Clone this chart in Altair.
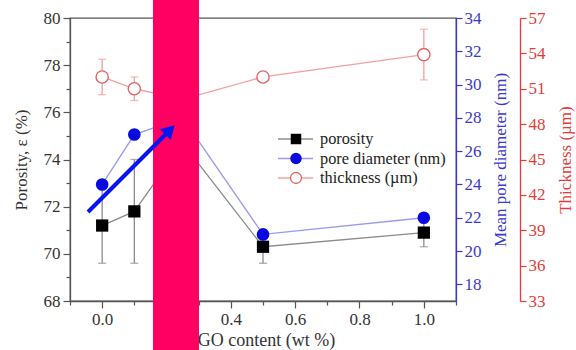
import altair as alt
import pandas as pd

# ---- data ----
go_content = [0.0, 0.1, 0.25, 0.5, 1.0]
porosity = [71.2, 71.8, 74.7, 70.3, 70.9]
porosity_err = [1.6, 2.2, 1.5, 0.7, 0.6]
pore_diameter = [24.0, 27.0, 28.0, 21.0, 22.0]
thickness = [52.0, 51.0, 50.1, 52.0, 53.9]
thickness_err = [1.5, 1.0, 0.8, 0.4, 2.15]

legend_labels = ["porosity", "pore diameter (nm)", "thickness (\u00b5m)"]

df = pd.DataFrame({
    "x": go_content,
    "por": porosity,
    "por_lo": [p - e for p, e in zip(porosity, porosity_err)],
    "por_hi": [p + e for p, e in zip(porosity, porosity_err)],
    "dia": pore_diameter,
    "thk": thickness,
    "thk_lo": [t - e for t, e in zip(thickness, thickness_err)],
    "thk_hi": [t + e for t, e in zip(thickness, thickness_err)],
})

FONT = "Liberation Serif, Times New Roman, serif"
GREY_LINE = "#8c8c8c"
BLUE = "#0a0ae0"
BLUE_LINE = "#9a9af0"
BLUE_AXIS = "#3a3ad0"
RED = "#e06464"
RED_LINE = "#f3a0a0"
RED_AXIS = "#e83a3a"

common_axis = dict(labelFont=FONT, titleFont=FONT, labelFontSize=17, titleFontSize=17,
                   titleFontWeight="normal", labelFontWeight="normal")

x_enc = alt.X(
    "x:Q",
    scale=alt.Scale(domain=[-0.1, 1.1], nice=False, zero=False),
    axis=alt.Axis(
        title="rGO content (wt %)",
        values=[round(-0.1 + 0.1 * i, 1) for i in range(13)],
        format=".1f",
        labelExpr="round(datum.value*10) % 2 !== 0 ? '' : datum.label",
        tickSize={"condition": {"test": "round(datum.value*10) % 2 !== 0", "value": 4}, "value": 7},
        domainColor="#555555",
        tickColor="#555555",
        labelColor="#333333",
        titleColor="#333333",
        labelPadding=3,
        titlePadding=4,
        **{**common_axis, "titleFontSize": 18},
    ),
)

left_axis = alt.Axis(
    title="Porosity, \u03b5 (%)",
    values=list(range(68, 81)),
    labelExpr="datum.value % 2 !== 0 ? '' : datum.label",
    tickSize={"condition": {"test": "datum.value % 2 !== 0", "value": 4}, "value": 7},
    domainColor="#555555",
    tickColor="#555555",
    labelColor="#333333",
    titleColor="#333333",
    labelPadding=3,
    titlePadding=13,
    **common_axis,
)
y_por_scale = alt.Scale(domain=[68, 80], nice=False, zero=False)

base = alt.Chart(df)

por_line = base.mark_line(color=GREY_LINE, strokeWidth=1.3).encode(
    x=x_enc, y=alt.Y("por:Q", scale=y_por_scale, axis=left_axis))
por_err = base.mark_rule(color=GREY_LINE, strokeWidth=1.3).encode(
    x=x_enc, y=alt.Y("por_lo:Q", scale=y_por_scale, axis=left_axis), y2="por_hi:Q")
por_cap_lo = base.mark_tick(color=GREY_LINE, orient="horizontal", size=8, thickness=1.3).encode(
    x=x_enc, y=alt.Y("por_lo:Q", scale=y_por_scale, axis=left_axis))
por_cap_hi = base.mark_tick(color=GREY_LINE, orient="horizontal", size=8, thickness=1.3).encode(
    x=x_enc, y=alt.Y("por_hi:Q", scale=y_por_scale, axis=left_axis))
por_pts = base.mark_point(shape="square", filled=True, color="#000000", size=150, opacity=1).encode(
    x=x_enc, y=alt.Y("por:Q", scale=y_por_scale, axis=left_axis))
por_group = alt.layer(por_line, por_err, por_cap_lo, por_cap_hi, por_pts)

blue_axis = alt.Axis(
    title="Mean pore diameter (nm)",
    orient="right",
    values=list(range(18, 35, 2)),
    tickSize=6,
    domainColor=BLUE_AXIS,
    tickColor=BLUE_AXIS,
    labelColor=BLUE_AXIS,
    titleColor=BLUE_AXIS,
    titleAngle=270,
    labelPadding=2,
    titlePadding=28,
    **common_axis,
)
y_dia_scale = alt.Scale(domain=[17, 34], nice=False, zero=False)
dia_line = base.mark_line(color=BLUE_LINE, strokeWidth=1.3).encode(
    x=x_enc, y=alt.Y("dia:Q", scale=y_dia_scale, axis=blue_axis))
dia_pts = base.mark_point(shape="circle", filled=True, color=BLUE, size=160, opacity=1).encode(
    x=x_enc, y=alt.Y("dia:Q", scale=y_dia_scale, axis=blue_axis))
dia_group = alt.layer(dia_line, dia_pts)

red_axis = alt.Axis(
    title="Thickness (\u00b5m)",
    orient="right",
    offset=64,
    values=list(range(33, 58, 3)),
    tickSize=6,
    domainColor=RED_AXIS,
    tickColor=RED_AXIS,
    labelColor=RED_AXIS,
    titleColor=RED_AXIS,
    titleAngle=270,
    labelPadding=2,
    titlePadding=29,
    **common_axis,
)
y_thk_scale = alt.Scale(domain=[33, 57], nice=False, zero=False)
thk_line = base.mark_line(color=RED_LINE, strokeWidth=1.3).encode(
    x=x_enc, y=alt.Y("thk:Q", scale=y_thk_scale, axis=red_axis))
thk_err = base.mark_rule(color=RED_LINE, strokeWidth=1.3).encode(
    x=x_enc, y=alt.Y("thk_lo:Q", scale=y_thk_scale, axis=red_axis), y2="thk_hi:Q")
thk_cap_lo = base.mark_tick(color=RED_LINE, orient="horizontal", size=8, thickness=1.3).encode(
    x=x_enc, y=alt.Y("thk_lo:Q", scale=y_thk_scale, axis=red_axis))
thk_cap_hi = base.mark_tick(color=RED_LINE, orient="horizontal", size=8, thickness=1.3).encode(
    x=x_enc, y=alt.Y("thk_hi:Q", scale=y_thk_scale, axis=red_axis))
thk_pts = base.mark_point(shape="circle", filled=True, fill="#ffffff", stroke=RED, strokeWidth=1.4,
                          size=150, opacity=1).encode(
    x=x_enc, y=alt.Y("thk:Q", scale=y_thk_scale, axis=red_axis))
thk_group = alt.layer(thk_line, thk_err, thk_cap_lo, thk_cap_hi, thk_pts)

# ---- manual legend ----
one = alt.Chart(pd.DataFrame({"a": [0]}))
legend_specs = [
    (legend_labels[0], GREY_LINE, dict(shape="square", filled=True, color="#000000", size=110)),
    (legend_labels[1], BLUE_LINE, dict(shape="circle", filled=True, color=BLUE, size=130)),
    (legend_labels[2], RED_LINE, dict(shape="circle", filled=True, fill="#ffffff", stroke=RED,
                                      strokeWidth=1.3, size=120)),
]
legend_layers = []
for i, (lab, lcol, pkw) in enumerate(legend_specs):
    yy = 121 + i * 19.5
    legend_layers.append(one.mark_rule(color=lcol, strokeWidth=1.3).encode(
        x=alt.value(208), x2=alt.value(243), y=alt.value(yy)))
    legend_layers.append(one.mark_point(opacity=1, **pkw).encode(
        x=alt.value(226), y=alt.value(yy)))
    legend_layers.append(one.mark_text(align="left", baseline="middle", font=FONT, fontSize=16.3,
                                       color="#222222").encode(
        x=alt.value(250), y=alt.value(yy), text=alt.value(lab)))

# ---- overlay annotations (pink band, blue arrow) ----
pink = one.mark_rect(color="#ff0062", opacity=1).encode(
    x=alt.value(83), x2=alt.value(129), y=alt.value(-18), y2=alt.value(332))
arrow_line = one.mark_rule(color="#0a14f0", strokeWidth=4).encode(
    x=alt.value(18), y=alt.value(194), x2=alt.value(99), y2=alt.value(113))
arrow_head = one.mark_point(shape="triangle-up", filled=True, color="#0a14f0", opacity=1,
                            size=230, angle=45).encode(
    x=alt.value(100), y=alt.value(112))

chart = alt.layer(
    por_group, dia_group, thk_group, *legend_layers, pink, arrow_line, arrow_head
).resolve_scale(y="independent").properties(
    width=386, height=283,
    autosize="none",
    padding={"left": 70, "top": 18, "right": 120, "bottom": 49},
    background="#ffffff",
).configure_view(
    stroke="#555555", strokeWidth=1.3
).configure_axis(
    grid=False, domainWidth=1.3, tickWidth=1.2,
)

chart.save("out.html", embed_options={"renderer": "svg", "actions": False})
